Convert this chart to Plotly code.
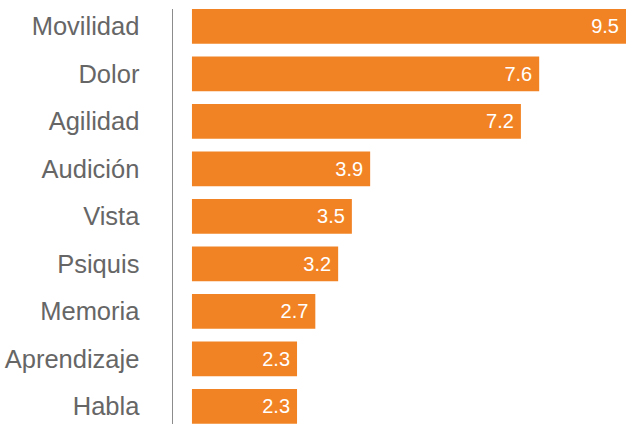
import plotly.graph_objects as go

categories = ["Movilidad", "Dolor", "Agilidad", "Audición", "Vista", "Psiquis", "Memoria", "Aprendizaje", "Habla"]
values = [9.5, 7.6, 7.2, 3.9, 3.5, 3.2, 2.7, 2.3, 2.3]

FONT = "Liberation Sans, Arial, Helvetica, sans-serif"

fig = go.Figure(go.Bar(
    x=values,
    y=categories,
    orientation="h",
    marker=dict(color="#F28325", line=dict(width=0)),
    text=[f"{v:.1f}\u2009" for v in values],
    textposition="inside",
    insidetextanchor="end",
    textfont=dict(color="white", size=20, family=FONT),
    cliponaxis=False,
    hoverinfo="skip",
))

fig.update_layout(
    width=626, height=424,
    margin=dict(l=173, r=0, t=9, b=0, pad=0),
    paper_bgcolor="white", plot_bgcolor="white",
    bargap=0.27,
    showlegend=False,
    font=dict(family=FONT, color="#666666", size=25),
    xaxis=dict(range=[-0.415, 9.5], visible=False, showgrid=False, zeroline=False),
    yaxis=dict(
        categoryorder="array", categoryarray=categories,
        range=[8.37, -0.364],
        showline=True, linecolor="#8C8C8C", linewidth=1.5,
        ticks="", showgrid=False, zeroline=False,
        ticklabelstandoff=27,
        tickfont=dict(size=25.5, color="#666666", family=FONT),
    ),
    uniformtext=dict(mode=False),
)

fig.write_html(
    "out.html",
    config={"displayModeBar": False, "staticPlot": True},
    post_script="document.body.style.margin='0';document.body.style.padding='0';"
                "document.documentElement.style.overflow='hidden';document.body.style.overflow='hidden';",
)
